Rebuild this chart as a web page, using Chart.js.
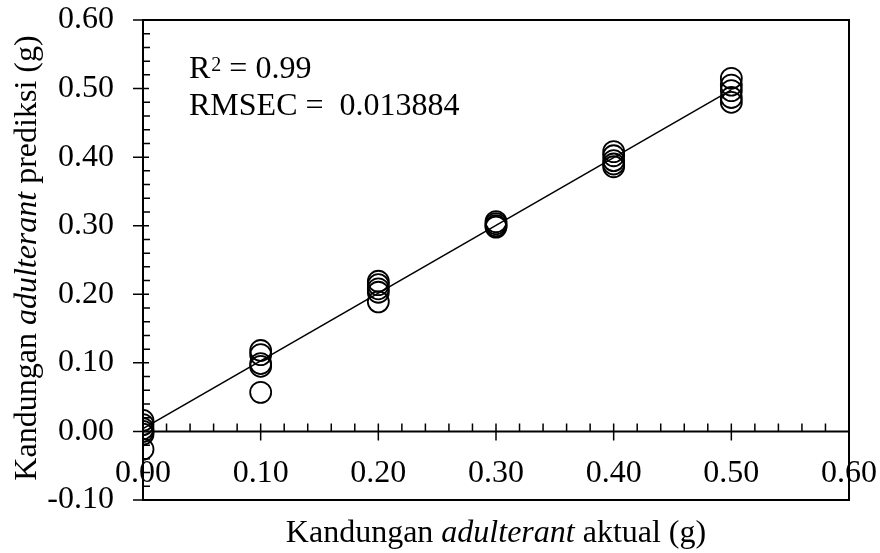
<!DOCTYPE html>
<html>
<head>
<meta charset="utf-8">
<script src="https://cdn.jsdelivr.net/npm/chart.js@4.4.1/dist/chart.umd.min.js"></script>
<style>
  html, body { margin: 0; padding: 0; background: #fff; }
  #wrap { width: 880px; height: 553px; }
</style>
</head>
<body>
<div id="wrap"><canvas id="mycanvas" width="880" height="553"></canvas></div>
<script>
var actualLevels = [0.00, 0.10, 0.20, 0.30, 0.40, 0.50];
var predAt000 = [0.016, 0.010, 0.004, 0.000, -0.004, -0.026];
var predAt010 = [0.118, 0.112, 0.099, 0.095, 0.057];
var predAt020 = [0.219, 0.214, 0.208, 0.203, 0.189];
var predAt030 = [0.306, 0.303, 0.300, 0.298];
var predAt040 = [0.408, 0.402, 0.395, 0.390, 0.386];
var predAt050 = [0.515, 0.505, 0.497, 0.487, 0.480];
var fitX = [0.00, 0.50];
var fitY = [0.004, 0.498];
var xTicks = [0.00, 0.10, 0.20, 0.30, 0.40, 0.50, 0.60];
var yTicks = [-0.10, 0.00, 0.10, 0.20, 0.30, 0.40, 0.50, 0.60];

var FONT = '"Liberation Serif", "Times New Roman", serif';
var FS = 32;

var groups = [predAt000, predAt010, predAt020, predAt030, predAt040, predAt050];
var points = [];
groups.forEach(function(g, i) {
  g.forEach(function(v) { points.push({ x: actualLevels[i], y: v }); });
});
var fitLine = fitX.map(function(x, i) { return { x: x, y: fitY[i] }; });

//no label overflow padding, so the plot area is set by layout padding only
function noPad(s) {
  s.paddingTop = 0; s.paddingBottom = 0; s.paddingLeft = 0; s.paddingRight = 0;
}

//axes, ticks and frame drawn like the Excel original (axes cross at 0)
var frame = {
  id: 'frame',
  beforeDatasetsDraw: function(chart) {
    var c = chart.ctx, a = chart.chartArea;
    var xs = chart.scales.x, ys = chart.scales.y;
    var x0 = xs.getPixelForValue(0), y0 = ys.getPixelForValue(0);
    c.save();
    c.strokeStyle = '#000';
    c.lineWidth = 2;
    c.strokeRect(a.left, a.top, a.right - a.left, a.bottom - a.top);
    c.beginPath();
    c.moveTo(a.left, y0); c.lineTo(a.right, y0);
    c.moveTo(x0, a.top); c.lineTo(x0, a.bottom);
    c.stroke();
    c.lineWidth = 1.5;
    c.beginPath();
    var i, p;
    for (i = 0; i <= 30; i++) {
      p = xs.getPixelForValue(i * 0.02);
      if (i % 5 === 0) { c.moveTo(p, y0 - 8); c.lineTo(p, y0 + 9); }
      else { c.moveTo(p, y0 - 8); c.lineTo(p, y0); }
    }
    for (i = -5; i <= 30; i++) {
      p = ys.getPixelForValue(i * 0.02);
      if (i % 5 === 0) { c.moveTo(x0 - 10, p); c.lineTo(x0 + 6, p); }
      else { c.moveTo(x0, p); c.lineTo(x0 + 7, p); }
    }
    c.stroke();
    c.restore();
  },
  afterDraw: function(chart) {
    var c = chart.ctx, a = chart.chartArea;
    c.save();
    c.fillStyle = '#000';
    c.textBaseline = 'alphabetic';
    // x title
    var cx = (a.left + a.right) / 2;
    var p1 = 'Kandungan ', p2 = 'adulterant', p3 = ' aktual (g)';
    c.font = FS + 'px ' + FONT;
    var w1 = c.measureText(p1).width, w3 = c.measureText(p3).width;
    c.font = 'italic ' + FS + 'px ' + FONT;
    var w2 = c.measureText(p2).width;
    var sx = cx - (w1 + w2 + w3) / 2, by = 542;
    c.font = FS + 'px ' + FONT; c.fillText(p1, sx, by);
    c.font = 'italic ' + FS + 'px ' + FONT; c.fillText(p2, sx + w1, by);
    c.font = FS + 'px ' + FONT; c.fillText(p3, sx + w1 + w2, by);
    // y title
    var q1 = 'Kandungan ', q2 = 'adulterant', q3 = ' prediksi (g)';
    c.font = FS + 'px ' + FONT;
    var v1 = c.measureText(q1).width, v3 = c.measureText(q3).width;
    c.font = 'italic ' + FS + 'px ' + FONT;
    var v2 = c.measureText(q2).width;
    c.translate(36, 258);
    c.rotate(-Math.PI / 2);
    var sy = -(v1 + v2 + v3) / 2;
    c.font = FS + 'px ' + FONT; c.fillText(q1, sy, 0);
    c.font = 'italic ' + FS + 'px ' + FONT; c.fillText(q2, sy + v1, 0);
    c.font = FS + 'px ' + FONT; c.fillText(q3, sy + v1 + v2, 0);
    c.restore();
    // stats box
    c.save();
    c.fillStyle = '#000';
    c.font = FS + 'px ' + FONT;
    var tx = 189;
    c.fillText('R', tx, 78);
    var rw = c.measureText('R').width;
    c.font = '20px ' + FONT;
    c.fillText('2', tx + rw + 1, 71);
    var sw = c.measureText('2').width;
    c.font = FS + 'px ' + FONT;
    c.fillText(' = 0.99', tx + rw + sw + 1, 78);
    c.fillText('RMSEC =  0.013884', tx, 115);
    c.restore();
  }
};

var chart1 = new Chart(document.getElementById('mycanvas'), {
  type: 'scatter',
  data: {
    datasets: [
      {
        label: 'Prediksi',
        data: points,
        pointStyle: 'circle',
        pointRadius: 10.5,
        pointBorderWidth: 1.8,
        borderColor: '#000',
        backgroundColor: 'rgba(0,0,0,0)',
        pointHoverRadius: 10.5
      },
      {
        type: 'line',
        label: 'Linear',
        data: fitLine,
        borderColor: '#000',
        borderWidth: 1.5,
        pointRadius: 0,
        fill: false
      }
    ]
  },
  plugins: [frame],
  options: {
    responsive: false,
    animation: false,
    layout: { padding: { top: 20, right: 31, left: 0, bottom: 53 } },
    plugins: { legend: { display: false }, tooltip: { enabled: false } },
    scales: {
      x: {
        type: 'linear',
        position: { y: 0 },
        min: 0, max: 0.6,
        afterBuildTicks: function(s) { s.ticks = xTicks.map(function(v) { return { value: v }; }); },
        ticks: {
          padding: 23,
          color: '#000',
          maxRotation: 0,
          font: { family: FONT, size: FS },
          callback: function(v) { return Number(v).toFixed(2); }
        },
        grid: { display: false, drawTicks: false },
        border: { display: false },
        afterFit: function(s) { s.height = 0; noPad(s); }
      },
      y: {
        type: 'linear',
        position: 'left',
        min: -0.1, max: 0.6,
        afterBuildTicks: function(s) { s.ticks = yTicks.map(function(v) { return { value: v }; }); },
        ticks: {
          padding: 29,
          color: '#000',
          font: { family: FONT, size: FS },
          callback: function(v) { return Number(v).toFixed(2); }
        },
        grid: { display: false, drawTicks: false },
        border: { display: false },
        afterFit: function(s) { s.width = 143; noPad(s); }
      }
    }
  }
});
</script>
</body>
</html>
